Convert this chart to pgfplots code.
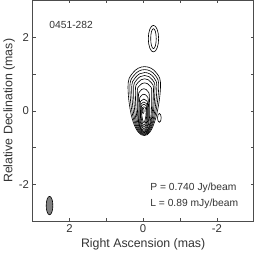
\documentclass[border=0pt]{standalone}
\usepackage{fontspec}
\setmainfont{Liberation Sans}
\usepackage{pgfplots}
\pgfplotsset{compat=1.18}
\definecolor{txt}{gray}{0.2}
\begin{document}
\begin{tikzpicture}
\begin{axis}[
  width=215pt, height=215pt, scale only axis,
  xmin=-3, xmax=3, ymin=-3, ymax=3, x dir=reverse,
  xtick={-2,0,2}, ytick={-2,0,2},
  minor xtick={-1,1}, minor ytick={-1,1},
  tick align=inside, major tick length=3pt, minor tick length=3pt,
  every tick/.style={black!70, line width=0.6pt},
  axis line style={black!70, line width=0.6pt},
  /pgf/number format/assume math mode=true,
  tick label style={font=\fontsize{11}{13}\selectfont, text=txt},
  label style={font=\fontsize{12}{14}\selectfont, text=txt},
  xlabel={Right Ascension (mas)},
  ylabel={Relative Declination (mas)},
  xlabel style={yshift=2pt},
  ylabel style={yshift=-3pt},
  clip=false,
  cycle list={{black, solid}},
  no markers,
  every axis plot/.append style={line width=0.6pt, smooth cycle, tension=0.7},
]
% main component contours
\addplot coordinates {(-0.04,1.20) (0.284,1.026) (0.41,0.62) (0.27,-0.30) (-0.03,-0.67) (-0.31,-0.30) (-0.47,0.62) (-0.364,1.026)};
\addplot coordinates {(-0.04,1.12) (0.248,0.964) (0.36,0.60) (0.24,-0.30) (-0.03,-0.65) (-0.28,-0.30) (-0.42,0.60) (-0.328,0.964)};
\addplot coordinates {(-0.04,1.04) (0.212,0.902) (0.31,0.58) (0.21,-0.30) (-0.03,-0.63) (-0.255,-0.30) (-0.37,0.58) (-0.292,0.902)};
\addplot coordinates {(-0.04,0.96) (0.176,0.84) (0.26,0.56) (0.18,-0.30) (-0.03,-0.61) (-0.23,-0.30) (-0.32,0.56) (-0.256,0.84)};
\addplot coordinates {(-0.04,0.87) (0.14,0.768) (0.21,0.53) (0.15,-0.30) (-0.03,-0.59) (-0.21,-0.30) (-0.28,0.53) (-0.22,0.768)};
\addplot coordinates {(-0.04,0.76) (0.104,0.676) (0.16,0.48) (0.125,-0.30) (-0.03,-0.57) (-0.19,-0.30) (-0.235,0.48) (-0.184,0.676)};
\addplot coordinates {(-0.02,0.60) (0.088,0.528) (0.13,0.36) (0.12,-0.30) (-0.02,-0.55) (-0.16,-0.30) (-0.17,0.36) (-0.128,0.528)};
\addplot coordinates {(-0.02,0.45) (0.066,0.393) (0.10,0.26) (0.10,-0.30) (-0.02,-0.52) (-0.14,-0.30) (-0.14,0.26) (-0.106,0.393)};
\addplot coordinates {(-0.02,0.32) (0.052,0.275) (0.08,0.17) (0.08,-0.28) (-0.02,-0.48) (-0.12,-0.28) (-0.12,0.17) (-0.092,0.275)};
\addplot coordinates {(-0.02,0.24) (0.041,0.204) (0.065,0.12) (0.065,-0.25) (-0.02,-0.44) (-0.105,-0.25) (-0.105,0.12) (-0.081,0.204)};
\addplot coordinates {(-0.02,0.18) (0.03,0.15) (0.05,0.08) (0.05,-0.20) (-0.02,-0.39) (-0.09,-0.20) (-0.09,0.08) (-0.07,0.15)};
\addplot coordinates {(-0.02,0.11) (0.02,0.089) (0.035,0.04) (0.035,-0.14) (-0.02,-0.32) (-0.075,-0.14) (-0.075,0.04) (-0.06,0.089)};
\addplot coordinates {(0,0.07) (0.018,0.05) (0.025,0) (0.018,-0.05) (0,-0.07) (-0.018,-0.05) (-0.025,0) (-0.018,0.05)};
% northern component
\addplot coordinates {(-0.28,2.32) (-0.181,2.215) (-0.14,1.96) (-0.181,1.705) (-0.28,1.60) (-0.379,1.705) (-0.42,1.96) (-0.379,2.215)};
\addplot coordinates {(-0.28,2.23) (-0.227,2.151) (-0.205,1.96) (-0.227,1.769) (-0.28,1.69) (-0.333,1.769) (-0.355,1.96) (-0.333,2.151)};
% small component
\addplot coordinates {(-0.44,-0.07) (-0.405,-0.105) (-0.39,-0.19) (-0.405,-0.275) (-0.44,-0.31) (-0.475,-0.275) (-0.49,-0.19) (-0.475,-0.105)};
% beam
\addplot[fill=black!50, draw=black] coordinates {(2.54,-2.32) (2.604,-2.393) (2.63,-2.57) (2.604,-2.747) (2.54,-2.82) (2.476,-2.747) (2.45,-2.57) (2.476,-2.393)};
\node[anchor=west, font=\fontsize{10}{12}\selectfont, text=txt, inner sep=0pt] at (axis cs:2.55,2.33) {0451-282};
\node[anchor=west, font=\fontsize{10}{12}\selectfont, text=txt, inner sep=0pt] at (axis cs:-0.19,-2.09) {P = 0.740 Jy/beam};
\node[anchor=west, font=\fontsize{10}{12}\selectfont, text=txt, inner sep=0pt] at (axis cs:-0.19,-2.51) {L = 0.89 mJy/beam};
\end{axis}
\end{tikzpicture}
\end{document}
